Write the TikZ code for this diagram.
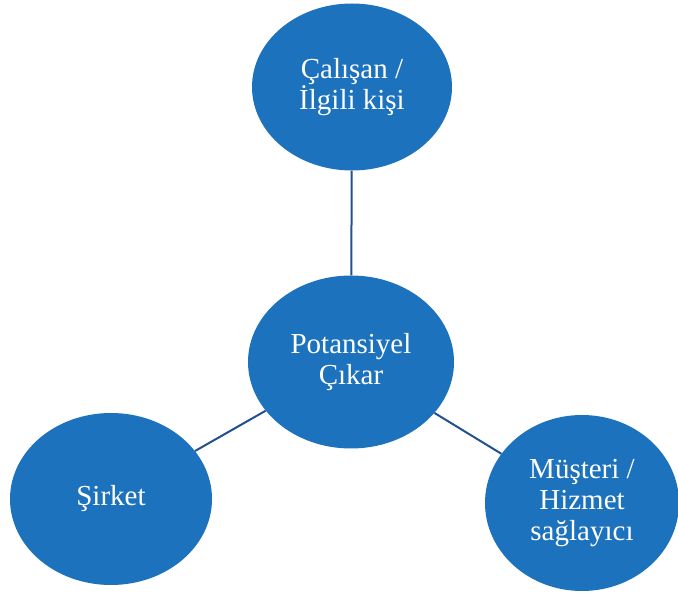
\documentclass[tikz,border=0pt]{standalone}
\usepackage{fontspec}
\setmainfont{Liberation Serif}
\usetikzlibrary{shapes.geometric}
\definecolor{circfill}{RGB}{28,114,188}
\definecolor{linecol}{RGB}{35,80,145}
\begin{document}
\begin{tikzpicture}[x=1pt,y=-1pt,
  bubble/.style={ellipse, fill=circfill, draw=none, text=white, align=center,
    font=\fontsize{29}{31}\selectfont, inner sep=0pt},
  link/.style={draw=linecol, line width=2pt}]
\useasboundingbox (0,0) rectangle (678,593);
\node[bubble, minimum width=200, minimum height=167] (top) at (352,87) {Çalışan /\\İlgili kişi};
\node[bubble, minimum width=206, minimum height=173] (mid) at (351,362) {Potansiyel\\Çıkar};
\node[bubble, minimum width=202, minimum height=172] (left) at (111,499) {Şirket};
\node[bubble, minimum width=194, minimum height=176] (right) at (582,503) {Müşteri /\\Hizmet\\sağlayıcı};
\draw[link] (mid) -- (top);
\draw[link] (mid) -- (left);
\draw[link] (mid) -- (right);
\end{tikzpicture}
\end{document}
